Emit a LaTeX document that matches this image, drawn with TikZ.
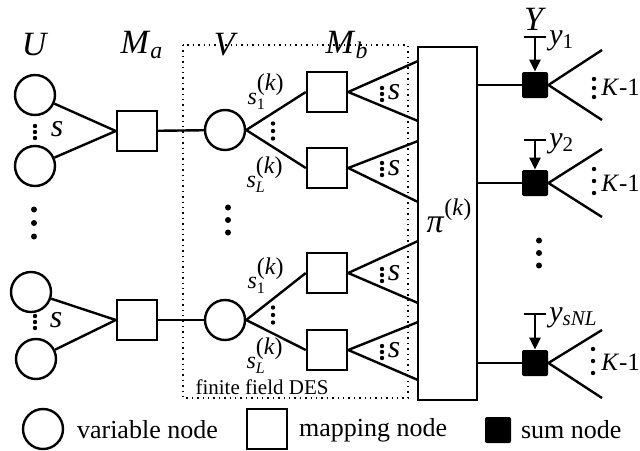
\documentclass[tikz,border=0pt]{standalone}
\usepackage{fontspec}
\setmainfont{Liberation Serif}
\usetikzlibrary{arrows.meta}

\newcommand\vi[1]{\textit{#1}}
\newcommand\headstyle{\fontsize{17}{19}\selectfont}
\newcommand\labelstyle{\fontsize{13}{15}\selectfont}
\newcommand\edgestyle{\fontsize{16}{18}\selectfont}
\newcommand\smalllabel{\fontsize{10.5}{12}\selectfont}
\newcommand\dotsize{1.1pt}
\newcommand\dotcol[3]{
  \foreach \k in {-1,0,1} \fill (#1, #2 + \k * #3) circle (\dotsize) ;
}
\newcommand\skl[1]{\vi{s}$_{\mathrm{#1}}^{\textrm{(}\textit{k}\textrm{)}}$}

\tikzset{
  vnode/.style={draw, circle, line width=1.2pt, minimum size=20pt, inner sep=0pt},
  mnode/.style={draw, rectangle, line width=1.2pt, minimum size=20pt, inner sep=0pt},
  snode/.style={fill=black, rectangle, rounded corners=1pt, minimum size=13pt, inner sep=0pt},
  wire/.style={line width=1.2pt},
  feed/.style={line width=1.2pt, -{Triangle[length=6pt,width=5.5pt]}},
}

\begin{document}
\begin{tikzpicture}[x=0.5pt, y=-0.5pt]
  \useasboundingbox (0,0) rectangle (640,450);
  % column heads
  \node (hU) at (35,45) {\headstyle\vi{U}};
  \node (hMa) at (142,45) {\headstyle\vi{M}\textsubscript{\vi{a}}};
  \node (hV) at (226,45) {\headstyle\vi{V}};
  \node (hMb) at (347,45) {\headstyle\vi{M}\textsubscript{\vi{b}}};
  \node (hY) at (535,19) {\headstyle\vi{Y}};
  % finite field DES box
  \draw[dotted, line width=0.7pt] (183,45) rectangle (408,398);
  \node[inner sep=0pt] (des) at (262,387) {\smalllabel finite field DES};
  % permutation box
  \node[draw, line width=1.2pt, minimum width=29.5pt, minimum height=176.5pt, inner sep=0pt] (pi) at (447.5,223.5) {};
  \node (pilab) at (449,216) {\fontsize{17}{19}\selectfont\vi{π}\raisebox{1.1ex}{\fontsize{12}{13}\selectfont(\vi{k})}};
  \foreach \n/\y in {1/61,2/121,3/141,4/202,5/241,6/303,7/322,8/380}
    \coordinate (pin\n) at (418,\y);
  % upper branch
  \node[vnode] (u1) at (35,95) {};
  \node[vnode] (u2) at (35,166) {};
  \node[mnode] (ma1) at (137,131) {};
  \node[vnode] (v1) at (225,130) {};
  \node[mnode] (mb1) at (327,92) {};
  \node[mnode] (mb2) at (327,168) {};
  \draw[wire] (u1) -- (ma1.west) ;
  \draw[wire] (u2) -- (ma1.west) ;
  \draw[wire] (ma1) -- (v1) ;
  \draw[wire] (v1.east) -- (mb1.west) ;
  \draw[wire] (v1.east) -- (mb2.west) ;
  \draw[wire] (mb1.east) -- (pin1) ;
  \draw[wire] (mb1.east) -- (pin2) ;
  \draw[wire] (mb2.east) -- (pin3) ;
  \draw[wire] (mb2.east) -- (pin4) ;
  % lower branch
  \node[vnode] (u3) at (31,292) {};
  \node[vnode] (u4) at (36,359) {};
  \node[mnode] (ma2) at (137,320) {};
  \node[vnode] (v2) at (225,320) {};
  \node[mnode] (mb3) at (327,273) {};
  \node[mnode] (mb4) at (327,350) {};
  \draw[wire] (u3) -- (ma2.west) ;
  \draw[wire] (u4) -- (ma2.west) ;
  \draw[wire] (ma2) -- (v2) ;
  \draw[wire] (v2.east) -- (mb3.west) ;
  \draw[wire] (v2.east) -- (mb4.west) ;
  \draw[wire] (mb3.east) -- (pin5) ;
  \draw[wire] (mb3.east) -- (pin6) ;
  \draw[wire] (mb4.east) -- (pin7) ;
  \draw[wire] (mb4.east) -- (pin8) ;
  % edge labels
  \node (s1) at (57,129) {\edgestyle\vi{s}};
  \node (s2) at (56,320) {\edgestyle\vi{s}};
  \node (s3) at (394,92) {\edgestyle\vi{s}};
  \node (s4) at (394,168) {\edgestyle\vi{s}};
  \node (s5) at (394,273) {\edgestyle\vi{s}};
  \node (s6) at (394,350) {\edgestyle\vi{s}};
  \node[inner sep=1pt] (l1) at (266,92) {\fontsize{12}{14}\selectfont\skl{1}};
  \node[inner sep=1pt] (l2) at (265,175) {\fontsize{12}{14}\selectfont\skl{\mathit{L}}};
  \node[inner sep=1pt] (l3) at (266,276) {\fontsize{12}{14}\selectfont\skl{1}};
  \node[inner sep=1pt] (l4) at (265,356) {\fontsize{12}{14}\selectfont\skl{\mathit{L}}};
  % sum nodes
  \foreach \n/\y/\t/\lab in {1/85/37/\vi{y}\textsubscript{1}, 2/183/140/\vi{y}\textsubscript{2}, 3/363/314/\vi{y}\textsubscript{\vi{sNL}}}{
    \node[snode] (sum\n) at (535,\y) {};
    \coordinate (bar\n) at (535,\t);
    \draw[wire] (pi.east |- sum\n) -- (sum\n) ;
    \draw[wire] ([xshift=-5.5pt]bar\n) -- ([xshift=5.5pt]bar\n) ;
    \draw[feed] (bar\n) -- (sum\n.north) ;
    \node[anchor=west, inner sep=0pt] (y\n) at (549,\t+4) {\fontsize{15}{17}\selectfont\lab};
  }
  \foreach \n/\a/\b in {1/50/120, 2/149/217, 3/330/398}{
    \coordinate (fa\n) at (602,\a);
    \coordinate (fb\n) at (602,\b);
    \draw[wire] (sum\n.east) -- (fa\n) ;
    \draw[wire] (sum\n.east) -- (fb\n) ;
  }
  \node[anchor=west, inner sep=0pt] (k1) at (601,87) {\fontsize{12.5}{14}\selectfont\vi{K}-1};
  \node[anchor=west, inner sep=0pt] (k2) at (601,183) {\fontsize{12.5}{14}\selectfont\vi{K}-1};
  \node[anchor=west, inner sep=0pt] (k3) at (601,362) {\fontsize{12.5}{14}\selectfont\vi{K}-1};
  % vertical dots
  \dotcol{35}{132}{6}
  \dotcol{35}{322}{6}
  \dotcol{273}{131}{7.5}
  \dotcol{273}{315}{7.5}
  \dotcol{382}{94}{6}
  \dotcol{382}{169}{6}
  \dotcol{382}{275}{6}
  \dotcol{382}{352}{6}
  \dotcol{594}{88}{9}
  \dotcol{594}{181}{12}
  \dotcol{593}{361}{12}
  \renewcommand\dotsize{1.5pt}
  \dotcol{34}{223}{13.5}
  \dotcol{228}{220}{12.5}
  \dotcol{539}{253}{12.5}
  % legend
  \node[vnode] (lgv) at (43,429) {};
  \node[anchor=west] (lgvt) at (70,430) {\labelstyle variable node};
  \node[mnode] (lgm) at (267,429) {};
  \node[anchor=west] (lgmt) at (292,430) {\labelstyle mapping node};
  \node[snode] (lgs) at (498,430) {};
  \node[anchor=west] (lgst) at (514,430) {\labelstyle sum node};
\end{tikzpicture}
\end{document}
